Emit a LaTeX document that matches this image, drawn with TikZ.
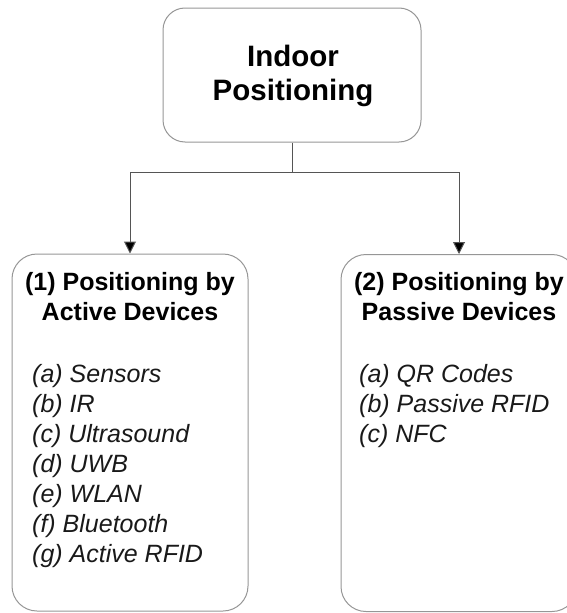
\documentclass[tikz,border=0pt]{standalone}
\usepackage{fontspec}
\setmainfont{Liberation Sans}
\usetikzlibrary{arrows.meta}
\definecolor{boxgray}{RGB}{150,150,150}
\definecolor{linegray}{RGB}{85,85,85}
\tikzset{
  box/.style={draw=boxgray, line width=1pt, rounded corners=22pt, fill=none, inner sep=0pt},
  conn/.style={draw=linegray, line width=1pt},
  arr/.style={conn, -{Triangle[length=12pt, width=12pt, fill=black]}},
  toptext/.style={font=\fontsize{29.5}{34}\selectfont\bfseries, anchor=base, inner sep=0pt},
  headtext/.style={font=\fontsize{25}{30}\selectfont\bfseries, anchor=base, inner sep=0pt},
  itemtext/.style={font=\fontsize{25}{30}\selectfont\itshape, anchor=base west, inner sep=0pt, text=black!90},
}
\begin{document}
\begin{tikzpicture}[x=1pt, y=-1pt]
\useasboundingbox (0,0) rectangle (567,613);
% boxes
\node[box, minimum width=258pt, minimum height=134pt] (top) at (292,75) {};
\node[box, minimum width=236pt, minimum height=357pt, rounded corners=25pt] (left) at (130,432.5) {};
\node[box, minimum width=236pt, minimum height=357pt, rounded corners=25pt] (right) at (459,433) {};
% top text
\node[toptext] (t1) at (293,66) {Indoor};
\node[toptext] (t2) at (293,100) {Positioning};
% headings
\node[headtext] (l1) at (130,290) {(1) Positioning by};
\node[headtext] (l2) at (130,320) {Active Devices};
\node[headtext] (r1) at (459,290) {(2) Positioning by};
\node[headtext] (r2) at (459,320) {Passive Devices};
% items left
\foreach \t [count=\i from 0] in {(a) Sensors,(b) IR,(c) Ultrasound,(d) UWB,(e) WLAN,(f) Bluetooth,(g) Active RFID}
  \node[itemtext] (li\i) at (32,382+30*\i) {\t};
% items right
\foreach \t [count=\i from 0] in {(a) QR Codes,(b) Passive RFID,(c) NFC}
  \node[itemtext] (ri\i) at (359,382+30*\i) {\t};
% connectors
\coordinate (j) at (292,172);
\draw[conn] (top.south) -- (j);
\draw[arr] (j) -| (left.north);
\draw[arr] (j) -| (right.north);
\end{tikzpicture}
\end{document}
